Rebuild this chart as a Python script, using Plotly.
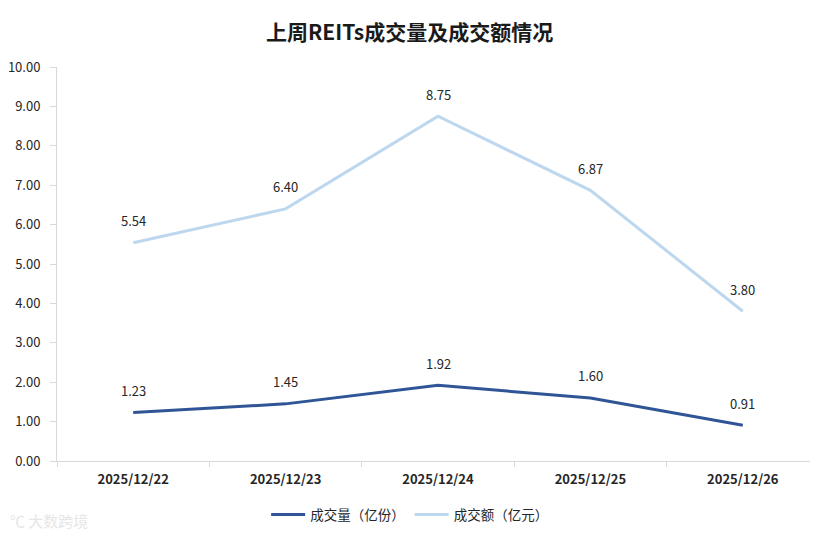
import plotly.graph_objects as go

dates = ["2025/12/22", "2025/12/23", "2025/12/24", "2025/12/25", "2025/12/26"]
volume = [1.23, 1.45, 1.92, 1.60, 0.91]
amount = [5.54, 6.40, 8.75, 6.87, 3.80]
yticks = [0, 1, 2, 3, 4, 5, 6, 7, 8, 9, 10]

dark = "#2F5597"
light = "#BDD7EE"
font = "Noto Sans CJK SC"

fig = go.Figure()
fig.add_trace(go.Scatter(x=dates, y=volume, mode="lines", name="成交量（亿份）",
                         line=dict(color=dark, width=3)))
fig.add_trace(go.Scatter(x=dates, y=amount, mode="lines", name="成交额（亿元）",
                         line=dict(color=light, width=3)))

for series in (volume, amount):
    for d, v in zip(dates, series):
        fig.add_annotation(x=d, y=v, text=f"{v:.2f}", showarrow=False, yshift=22,
                           font=dict(size=13, color="#262626", family=font))

fig.add_annotation(xref="paper", yref="paper", x=-0.064, y=-0.15, xanchor="left",
                   yanchor="middle", text="℃ 大数跨境", showarrow=False,
                   font=dict(size=15, color="#e6e6e6", family=font))

fig.update_layout(
    width=818, height=538,
    margin=dict(l=49, r=7, t=59, b=85, autoexpand=False),
    paper_bgcolor="white", plot_bgcolor="white",
    title=dict(text="<b>上周REITs成交量及成交额情况</b>", x=0.491, xanchor="center",
               y=0.955, yanchor="middle", font=dict(size=21, color="#1a1a1a", family=font)),
    font=dict(family=font, color="#404040"),
    showlegend=True,
    legend=dict(orientation="h", xref="container", x=0.491, xanchor="center",
                yref="container", y=0.058, yanchor="middle",
                font=dict(size=13.5, color="#262626", family=font), itemwidth=34),
    xaxis=dict(type="category", range=[-0.5, 4.5], showgrid=False, showline=True,
               linecolor="#d9d9d9", linewidth=1, ticks="outside", tickson="boundaries",
               ticklen=5, tickcolor="#d9d9d9", automargin=False, ticklabelstandoff=6,
               tickfont=dict(size=13, color="#262626", family=font),
               ticktext=[f"<b>{d}</b>" for d in dates], tickvals=dates),
    yaxis=dict(range=[0, 10], tickvals=yticks, ticktext=[f"{t:.2f}" for t in yticks],
               showgrid=False, showline=True, linecolor="#d9d9d9", linewidth=1,
               ticks="outside", tickcolor="#d9d9d9", ticklen=6, zeroline=False,
               automargin=False, ticklabelstandoff=7,
               tickfont=dict(size=13, color="#262626", family=font)),
)

fig.write_html("out.html")
